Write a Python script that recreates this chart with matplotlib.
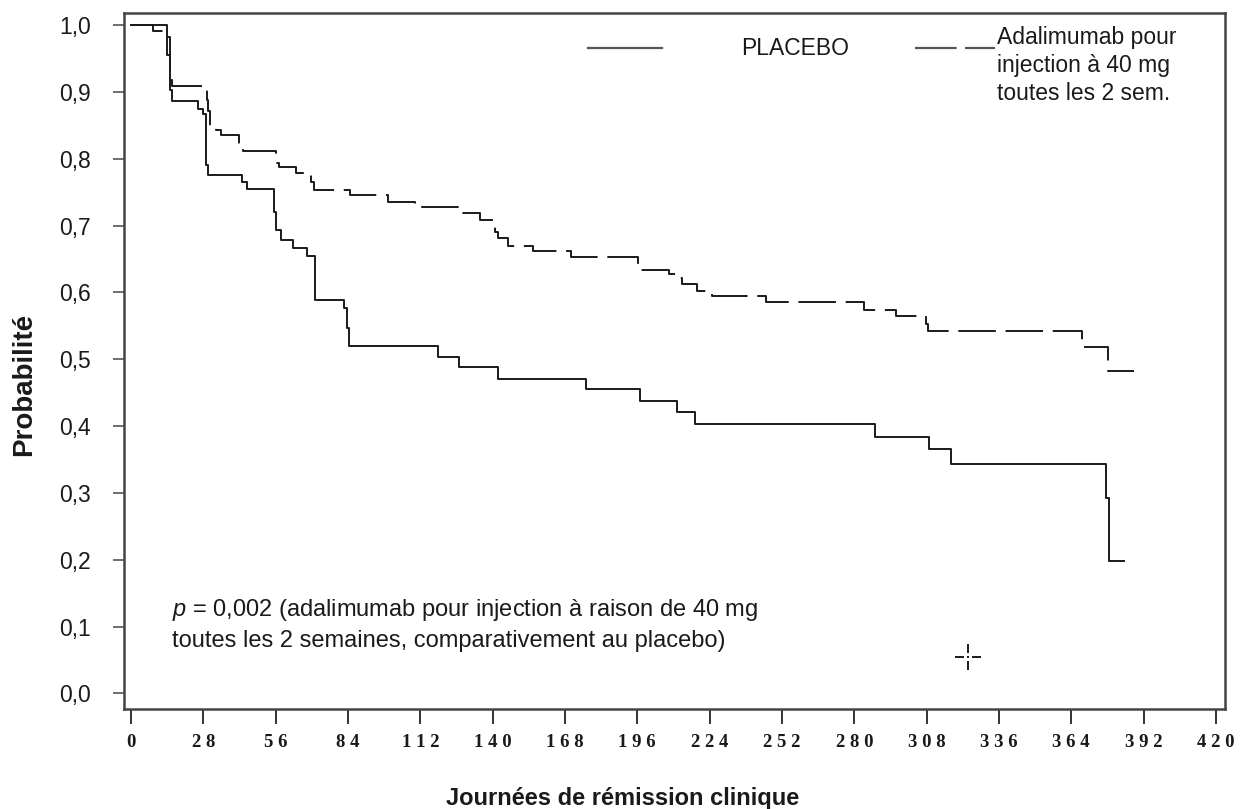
import matplotlib
matplotlib.use("Agg")
import matplotlib.pyplot as plt
from matplotlib.path import Path

# Kaplan-Meier steps (day, probability)
placebo_days = [0, 14, 15, 16, 26, 28, 29, 30, 43, 45, 55.5, 56.3, 58, 62.8, 68.2, 71.2,
                82.5, 83.5, 84.5, 119, 127, 142, 176, 197, 211.4, 218.5, 288, 309, 317.3,
                377.5, 378.5, 384.4]
placebo_prob = [1.0, 0.955, 0.903, 0.887, 0.875, 0.867, 0.79, 0.776, 0.765, 0.754, 0.72, 0.694,
                0.679, 0.667, 0.655, 0.589, 0.576, 0.547, 0.520, 0.504, 0.488, 0.470, 0.455,
                0.437, 0.421, 0.403, 0.384, 0.366, 0.343, 0.292, 0.198, 0.198]

ada_days = [0, 8.6, 14, 15, 16, 29.5, 30, 30.5, 33, 35, 42, 43.5, 56, 57.5, 64, 69.8, 71,
            84.7, 99.6, 109.8, 126.6, 135, 141, 142, 146, 155.6, 170.4, 196.1, 208.4, 212,
            213.5, 219, 225, 245.8, 283.8, 296, 307.7, 308.5, 368.2, 378.2, 388.2]
ada_prob = [1.0, 0.991, 0.982, 0.918, 0.909, 0.888, 0.872, 0.846, 0.843, 0.836, 0.821, 0.811,
            0.793, 0.787, 0.778, 0.765, 0.753, 0.746, 0.736, 0.728, 0.719, 0.709, 0.69, 0.681,
            0.669, 0.662, 0.653, 0.634, 0.627, 0.621, 0.613, 0.602, 0.594, 0.585, 0.574,
            0.564, 0.553, 0.542, 0.519, 0.482, 0.482]

x_ticks = list(range(0, 421, 28))
y_ticks = [i / 10 for i in range(0, 11)]

placebo_label = "PLACEBO"
ada_label = "Adalimumab pour\ninjection à 40 mg\ntoutes les 2 sem."
p_line1 = "$p$ = 0,002 (adalimumab pour injection à raison de 40 mg"
p_line2 = "toutes les 2 semaines, comparativement au placebo)"

# cursor cross left on the screenshot
cross_day, cross_prob = 324, 0.055

plt.rcParams["font.family"] = ["Liberation Sans", "DejaVu Sans"]
plt.rcParams["mathtext.fontset"] = "custom"
plt.rcParams["mathtext.it"] = "Liberation Sans:italic"
plt.rcParams["mathtext.rm"] = "Liberation Sans"
plt.rcParams["lines.scale_dashes"] = False

ink = "#1a1a1a"
dash_style = (0, (27, 7))

fig = plt.figure(figsize=(12.42, 8.09), dpi=100)
ax = fig.add_axes([0.0998, 0.1236, 0.8865, 0.8603])

ax.step(placebo_days, placebo_prob, where="post", color=ink, lw=1.4)
ax.step(ada_days, ada_prob, where="post", color=ink, lw=1.4, linestyle=dash_style)

ax.set_xlim(-2.7, 423.5)
ax.set_ylim(-0.0232, 1.018)

ax.set_xticks(x_ticks)
ax.set_xticklabels([" ".join(str(t)) for t in x_ticks],
                   fontfamily="Liberation Serif", fontweight="bold", fontsize=13.5)
ax.set_yticks(y_ticks)
ax.set_yticklabels([f"{v:.1f}".replace(".", ",") for v in y_ticks], fontsize=16.5)
ax.tick_params(axis="x", length=11, width=1.4, pad=7, colors="#333", labelcolor=ink)
ax.tick_params(axis="y", length=8, width=1.2, pad=16, colors="#555", labelcolor=ink)

for s in ax.spines.values():
    s.set_color("#444")
    s.set_linewidth(1.8)

ax.set_xlabel("Journées de rémission clinique", fontsize=17, fontweight="bold", color=ink)
ax.xaxis.set_label_coords(0.453, -0.112)
ax.set_ylabel("Probabilité", fontsize=20, fontweight="bold", color=ink)
ax.yaxis.set_label_coords(-0.079, 0.466)

# legend drawn the way the original lays it out
ax.plot([0.4214, 0.4886], [0.9497, 0.9497], transform=ax.transAxes, color="#555", lw=1.6)
ax.text(0.6094, 0.9497, placebo_label, transform=ax.transAxes, ha="center", va="center",
        fontsize=16.5, color=ink)
ax.plot([0.7184, 0.7911], [0.9497, 0.9497], transform=ax.transAxes, color="#555", lw=1.6,
        linestyle=(0, (30, 6)))
ax.text(0.7929, 0.982, ada_label, transform=ax.transAxes, ha="left", va="top",
        fontsize=16.5, color=ink, linespacing=1.3)

ax.text(0.0436, 0.1422, p_line1, transform=ax.transAxes, ha="left", va="center",
        fontsize=17, color=ink)
ax.text(0.0436, 0.0977, p_line2, transform=ax.transAxes, ha="left", va="center",
        fontsize=17, color=ink)

cross = Path([(0, 0.3), (0, 1), (0, -0.3), (0, -1), (0.3, 0), (1, 0), (-0.3, 0), (-1, 0),
              (0, 0.06), (0, -0.06)],
             [Path.MOVETO, Path.LINETO] * 5)
ax.plot([cross_day], [cross_prob], marker=cross, markersize=19, markeredgewidth=1.4,
        color=ink, linestyle="none")

fig.savefig("out.png", dpi=100)
